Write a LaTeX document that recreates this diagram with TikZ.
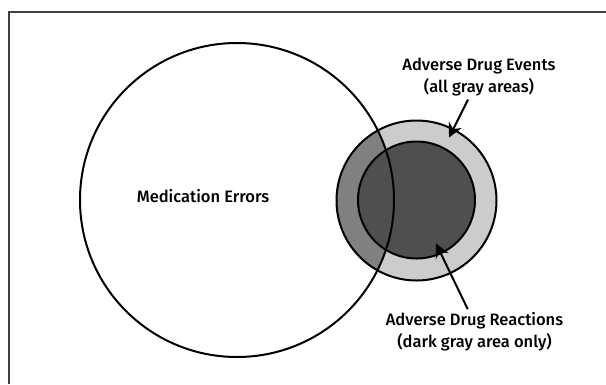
\documentclass[tikz,border=0pt]{standalone}
\usepackage{fontspec}
\setmainfont{Fira Sans}[BoldFont={Fira Sans Medium}]
\usetikzlibrary{
  positioning,
  arrows.meta
}
\definecolor{lightgray}{gray}{0.80}
\definecolor{midgray}{gray}{0.50}
\definecolor{darkgray}{gray}{0.31}
\tikzset{
  ring/.style={circle, draw, line width=2pt, inner sep=0pt},
  label text/.style={align=center, font=\fontsize{16.5}{22}\selectfont\bfseries},
  pointer/.style={-{Stealth[length=14pt, width=14pt]}, line width=2pt},
  frame/.style={draw=black!75, line width=2pt}
}

\begin{document}
\begin{tikzpicture}[x=1pt, y=-1pt]
    \useasboundingbox (0,0) rectangle (606,384);
    \draw[frame] (8.5,384) |- (606,12);

    % shaded areas first, outlines on top
    \fill[lightgray] (416.5,200.5) circle (80);
    \begin{scope}
      \clip (237,200) circle (157);
      \fill[midgray] (416.5,200.5) circle (80);
    \end{scope}
    \fill[darkgray] (416.5,200) circle (58.5);

    \node[ring, minimum size=160] (ade) at (416.5,200.5) {};
    \node[ring, minimum size=117] (adr) at (416.5,200) {};
    \node[ring, minimum size=314] (me) at (237,200) {};

    \node[label text] (melabel) at (203,196) {Medication Errors};
    \node[label text] (adelabel) at (479,77) {Adverse Drug Events\\(all gray areas)};
    \node[label text] (adrlabel) at (474.5,332) {Adverse Drug Reactions\\(dark gray area only)};

    \coordinate (adetip) at (449,137.5);
    \coordinate (adrtip) at (436,243.5);
    \draw[pointer] (adelabel.south -| 468,0) -- (adetip);
    \draw[pointer] (adrlabel.north -| 467.7,0) -- (adrtip);
\end{tikzpicture}
\end{document}
